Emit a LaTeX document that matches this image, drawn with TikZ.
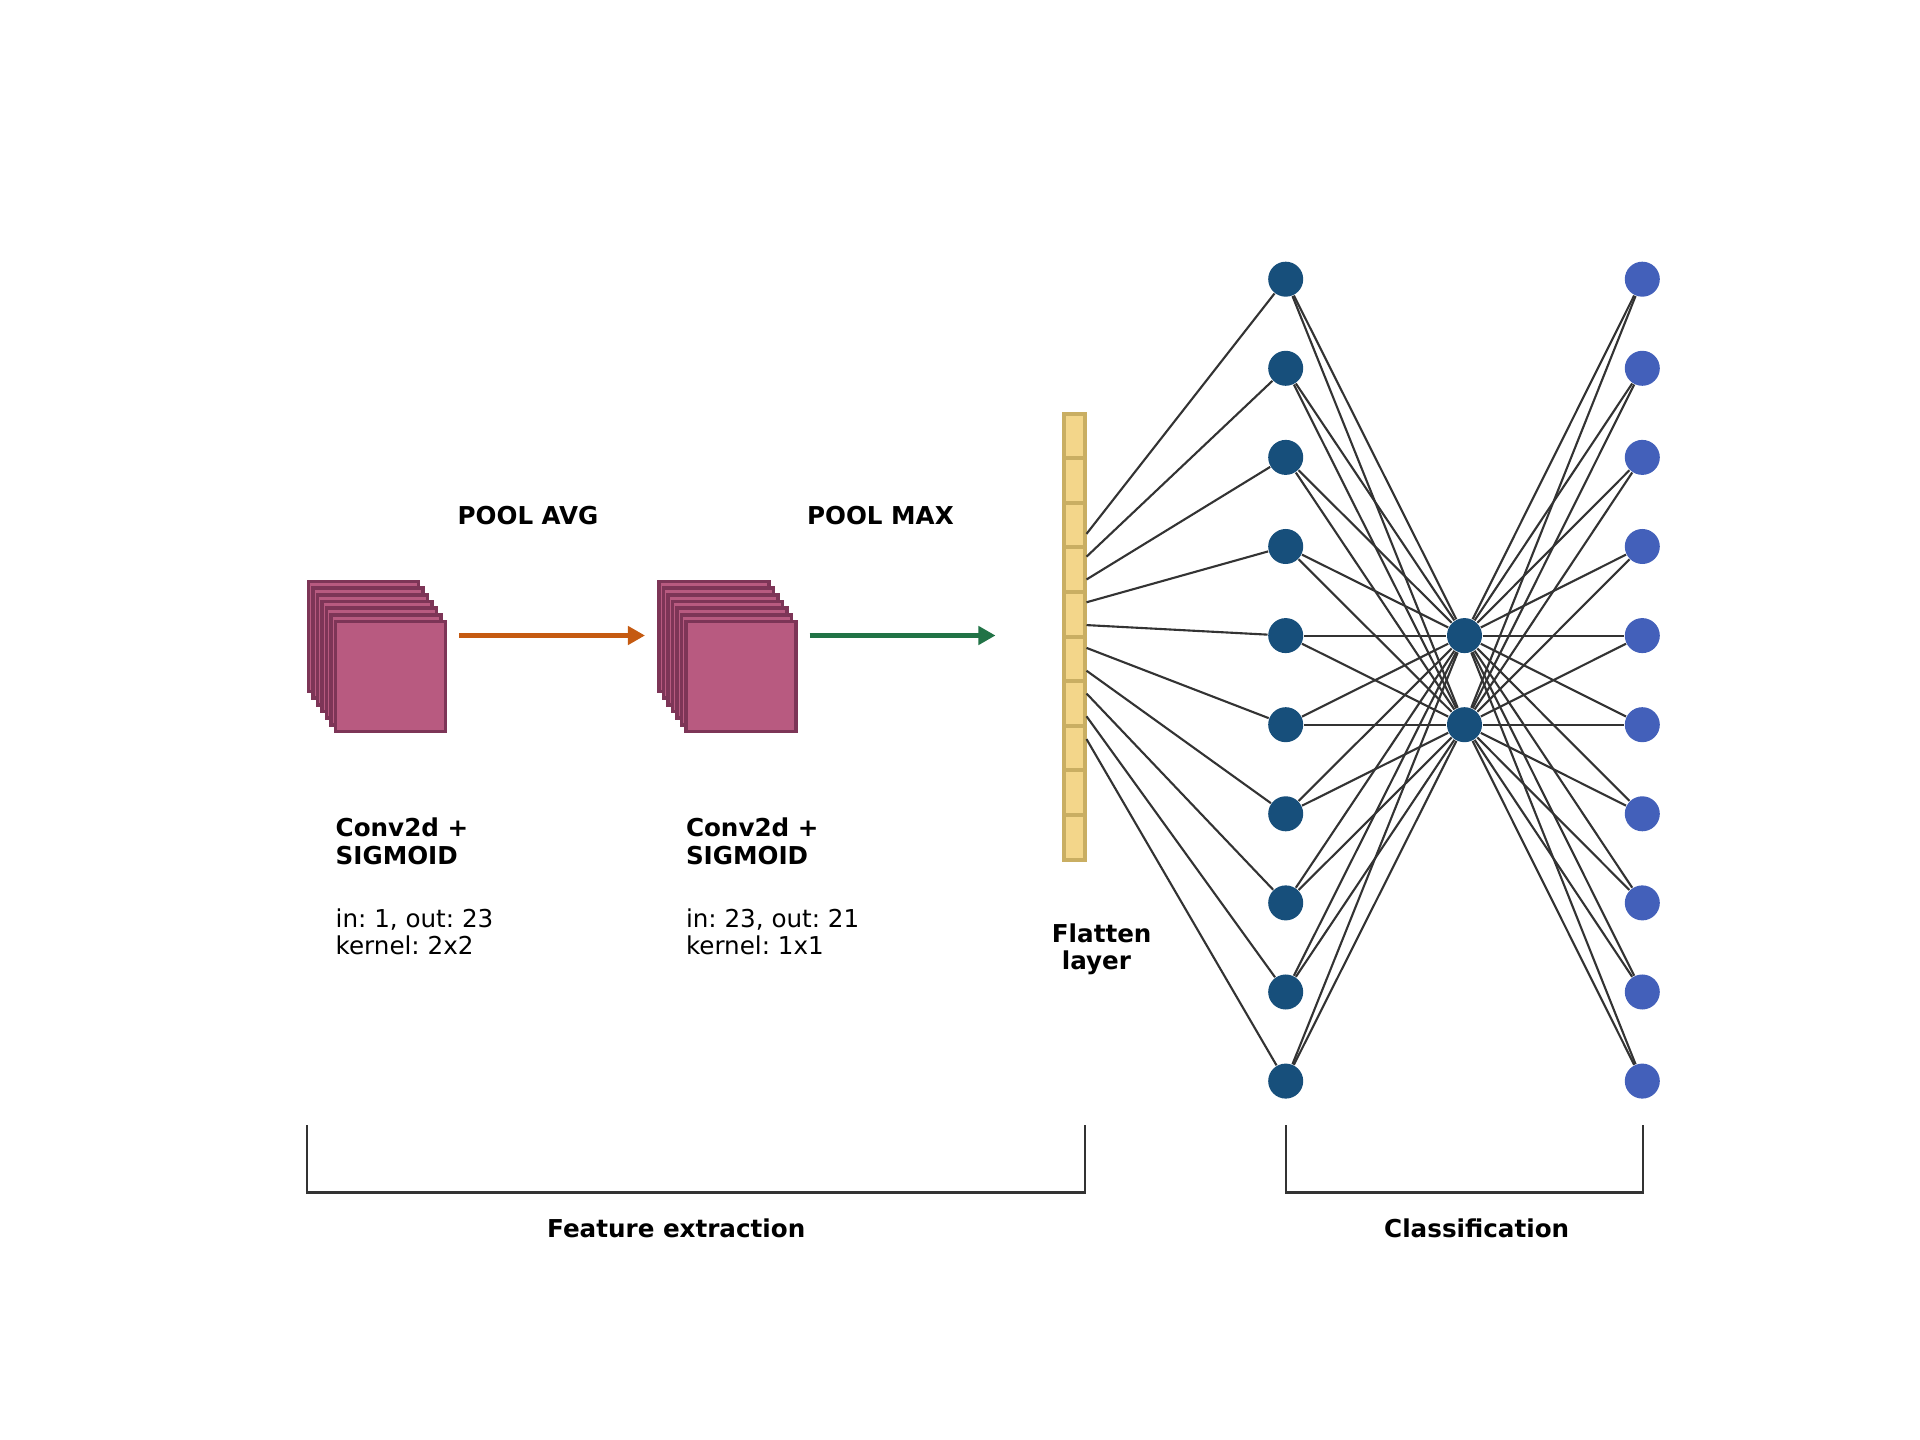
\documentclass[tikz,border=0pt]{standalone}
\usepackage{fontspec}
\setmainfont{DejaVu Sans}
\usetikzlibrary{arrows.meta}

\definecolor{mapfill}{HTML}{B85A80}
\definecolor{mapedge}{HTML}{7D3557}
\definecolor{flatfill}{HTML}{F3D68A}
\definecolor{flatedge}{HTML}{C9AE62}
\definecolor{hidblue}{HTML}{174F7B}
\definecolor{outblue}{HTML}{4360BA}
\definecolor{avgorange}{HTML}{C55A11}
\definecolor{maxgreen}{HTML}{217346}
\definecolor{wiregray}{HTML}{333333}

\tikzset{
  fmap/.style={draw=mapedge, fill=mapfill, line width=1pt},
  cell/.style={draw=flatedge, fill=flatfill, line width=1.1pt, minimum width=0.212cm, minimum height=0.446cm, inner sep=0pt},
  neuron/.style={circle, inner sep=0pt, minimum size=0.35cm},
  wire/.style={draw=wiregray, line width=0.6pt},
  poolarrow/.style={line width=1.4pt, -{Triangle[length=0.17cm,width=0.18cm]}},
  brace/.style={draw=wiregray, line width=0.6pt},
  lab/.style={font=\bfseries, inner sep=0pt},
  txt/.style={inner sep=0pt, align=left},
}

\begin{document}
\fontsize{7}{7.85}\selectfont\frenchspacing
\begin{tikzpicture}[x=0.01cm, y=-0.01cm]
\useasboundingbox (0,0) rectangle (1920,1440);
% Feature maps, back to front
\foreach \k in {0,...,6} {
  \draw[fmap] ({308.5+4.5*\k}, {581.5+6.67*\k}) rectangle +(110,110);
  \draw[fmap] ({658.8+4.5*\k}, {581.5+6.67*\k}) rectangle +(110,110);
}
% Pooling arrows
\coordinate (avgstart) at (459,635.5);
\coordinate (avgend) at (645,635.5);
\coordinate (maxstart) at (809.5,635.5);
\coordinate (maxend) at (995.5,635.5);
\draw[poolarrow, avgorange] (avgstart) -- (avgend);
\draw[poolarrow, maxgreen] (maxstart) -- (maxend);
\node[lab, txt] (avglab) at (528,515.5) {POOL AVG};
\node[lab, txt] (maxlab) at (880.4,515.5) {POOL MAX};
% Layer captions (base = last line)
\node[lab, txt, anchor=base west] (conv1) at (335,864.3) {Conv2d +\\SIGMOID};
\node[txt, anchor=base west] (par1) at (335,955) {in: 1, out: 23\\kernel: 2x2};
\node[lab, txt, anchor=base west] (conv2) at (685.3,864.3) {Conv2d +\\SIGMOID};
\node[txt, anchor=base west] (par2) at (685.3,955) {in: 23, out: 21\\kernel: 1x1};
% Flatten layer
\foreach \k in {1,...,10}
  \node[cell] (fl\k) at (1074.5, {435.9+44.6*(\k-1)}) {};
\node[lab, align=center, anchor=base] (fllab) at (1101.7,970) {Flatten\\layer\kern3pt};
% Neurons
\foreach \i in {1,...,10} {
  \node[neuron, fill=hidblue] (h\i) at (1285.7, {279.2+89.1*(\i-1)}) {};
  \node[neuron, fill=outblue] (o\i) at (1642.3, {279.2+89.1*(\i-1)}) {};
  \coordinate (fo\i) at (1086.5, {636.5+22.8*(\i-5.5)});
}
\node[neuron, fill=hidblue] (g1) at (1464.5,635.6) {};
\node[neuron, fill=hidblue] (g2) at (1464.5,724.7) {};
% Connections
\foreach \i in {1,...,10} {
  \draw[wire] (fo\i) -- (h\i);
  \foreach \j in {1,2} {
    \draw[wire] (h\i) -- (g\j);
    \draw[wire] (g\j) -- (o\i);
  }
}
% Brackets
\draw[brace] (307.4,1125.3) |- (1085,1192.5) -- (1085,1125.3);
\draw[brace] (1285.7,1125.3) |- (1642.7,1192.5) -- (1642.7,1125.3);
\node[lab, anchor=base] (felab) at (676.3,1237.7) {Feature extraction};
\node[lab, anchor=base] (cllab) at (1476.7,1237.7) {Classification};
\end{tikzpicture}
\end{document}
